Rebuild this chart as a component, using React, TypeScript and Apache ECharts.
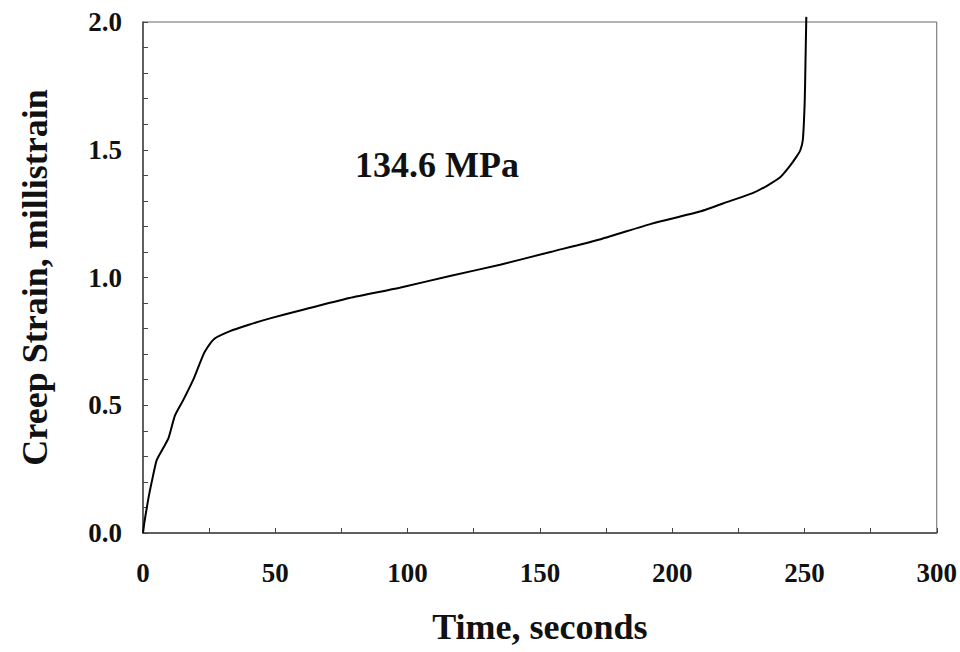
import React, { useEffect, useRef } from "react";
import * as echarts from "echarts";

const timeSeconds = [0, 0.5, 1.4, 2.3, 3.3, 5.2, 7.5, 9.6, 12.1, 15.2, 19.0, 21.5, 23.4, 27, 32.9, 40, 48, 59, 78, 97, 116, 135, 154, 173, 192, 210.4, 222, 230.4, 236, 240.6, 244, 247, 248.5, 249.4, 250.1, 250.4, 250.7];
const creepStrain = [0, 0.04, 0.097, 0.15, 0.2, 0.286, 0.33, 0.37, 0.46, 0.52, 0.6, 0.665, 0.71, 0.76, 0.79, 0.815, 0.84, 0.87, 0.92, 0.96, 1.006, 1.05, 1.1, 1.15, 1.21, 1.258, 1.3, 1.33, 1.36, 1.39, 1.43, 1.473, 1.5, 1.54, 1.69, 1.85, 2.02];

const xTicks = [0, 50, 100, 150, 200, 250, 300];
const yTicks = [0, 0.5, 1.0, 1.5, 2.0];
const annotation = "134.6 MPa";

const FONT = "'Liberation Serif', 'Times New Roman', serif";

export default function App() {
  const ref = useRef<HTMLDivElement>(null);
  useEffect(() => {
    if (!ref.current) return;
    const chart = echarts.init(ref.current, null, { renderer: "svg" });
    const data = timeSeconds.map((t, i) => [t, creepStrain[i]]);
    chart.setOption({
      animation: false,
      backgroundColor: "#ffffff",
      grid: {
        left: 143,
        right: 23,
        top: 22,
        bottom: 119,
        show: true,
        borderColor: "#666",
        borderWidth: 1,
      },
      xAxis: {
        type: "value",
        min: xTicks[0],
        max: xTicks[xTicks.length - 1],
        interval: 50,
        name: "Time, seconds",
        nameLocation: "middle",
        nameGap: 76,
        nameTextStyle: { fontFamily: FONT, fontWeight: "bold", fontSize: 36, color: "#111" },
        axisLine: { lineStyle: { color: "#444", width: 1.5 } },
        axisTick: { inside: true, length: 5, lineStyle: { color: "#444" } },
        minorTick: { show: true, splitNumber: 2, length: 5, lineStyle: { color: "#444" } },
        splitLine: { show: false },
        axisLabel: {
          margin: 26,
          fontFamily: FONT,
          fontWeight: "bold",
          fontSize: 27,
          color: "#111",
          formatter: (v: number) => String(v),
        },
      },
      yAxis: {
        type: "value",
        min: yTicks[0],
        max: yTicks[yTicks.length - 1],
        interval: 0.5,
        name: "Creep Strain, millistrain",
        nameLocation: "middle",
        nameGap: 90,
        nameTextStyle: { fontFamily: FONT, fontWeight: "bold", fontSize: 36, color: "#111" },
        axisLine: { show: true, lineStyle: { color: "#444", width: 1.5 } },
        axisTick: { show: true, inside: true, length: 5, lineStyle: { color: "#444" } },
        minorTick: { show: true, splitNumber: 5, length: 5, lineStyle: { color: "#444" } },
        splitLine: { show: false },
        axisLabel: {
          margin: 21,
          fontFamily: FONT,
          fontWeight: "bold",
          fontSize: 27,
          color: "#111",
          formatter: (v: number) => v.toFixed(1),
        },
      },
      graphic: [
        {
          type: "text",
          left: 355,
          top: 147,
          style: {
            text: annotation,
            fontFamily: FONT,
            fontWeight: "bold",
            fontSize: 36,
            fill: "#111",
          },
        },
      ],
      series: [
        {
          type: "line",
          data,
          showSymbol: false,
          clip: false,
          smooth: 0.2,
          lineStyle: { color: "#000", width: 2 },
        },
      ],
    });
    return () => chart.dispose();
  }, []);
  return <div ref={ref} style={{ width: 960, height: 652, position: "absolute", left: 0, top: 0 }} />;
}
